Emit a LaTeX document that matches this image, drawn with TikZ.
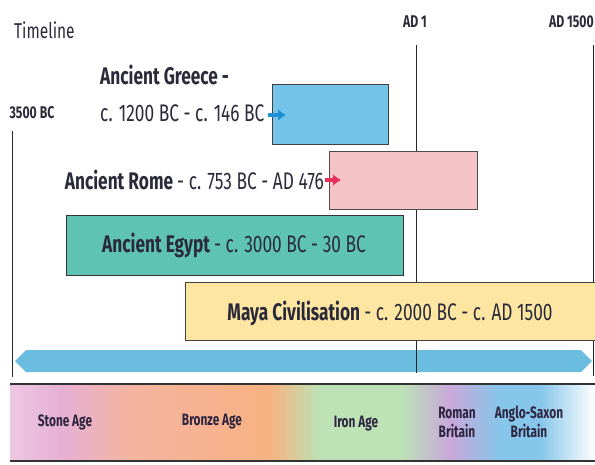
\documentclass[tikz,border=0pt]{standalone}
\usepackage{fontspec}
\setmainfont{Fira Sans}[FakeStretch=0.72]
\usetikzlibrary{arrows.meta}
\definecolor{txt}{HTML}{2B2A3A}
\definecolor{greecefill}{HTML}{74C3E8}
\definecolor{romefill}{HTML}{F7C4C6}
\definecolor{egyptfill}{HTML}{5EC3B3}
\definecolor{mayafill}{HTML}{FCE6A2}
\definecolor{barblue}{HTML}{6BBDE0}
\definecolor{garrow}{HTML}{1E8FD2}
\definecolor{rarrow}{HTML}{E8305A}
\definecolor{c1}{HTML}{E6B0D6}
\definecolor{c2}{HTML}{F4B4A0}
\definecolor{c3}{HTML}{F7B282}
\definecolor{c4}{HTML}{BCE2B6}
\definecolor{c5}{HTML}{C9A8DA}
\definecolor{c6}{HTML}{86C6EA}
\definecolor{ageTxt}{HTML}{2E2540}
\tikzset{
  civbox/.style={draw=#1, line width=1.4pt, inner sep=0pt, anchor=north west},
  lbl/.style={text=txt, inner sep=0pt, font=\fontsize{24}{27}\selectfont},
  datelbl/.style={text=txt, inner sep=0pt, font=\bfseries\fontsize{17}{19}\selectfont},
  agelbl/.style={text=ageTxt, inner sep=0pt, align=center, font=\bfseries\fontsize{16.5}{19}\selectfont},
  tick/.style={draw=black!85, line width=1pt},
}
\begin{document}
\begin{tikzpicture}[x=1pt,y=-1pt]
\useasboundingbox (0,0) rectangle (595,464);
% title and date labels
\node[lbl, font=\fontsize{21.5}{24}\selectfont, anchor=west] (title) at (14,30) {Timeline};
\node[datelbl] (d3500) at (32,113) {3500 BC};
\node[datelbl] (dad1) at (415,22) {AD 1};
\node[datelbl, anchor=east] (dad1500) at (594,22) {AD 1500};
% age band
\shade[left color=c1!70!white, right color=c1] (10,385) rectangle (60,460);
\shade[left color=c1, right color=c2] (60,385) rectangle (130,460);
\shade[left color=c2, right color=c3] (130,385) rectangle (270,460);
\shade[left color=c3, right color=c4] (270,385) rectangle (320,460);
\shade[left color=c4, right color=c4] (320,385) rectangle (400,460);
\shade[left color=c4, right color=c5] (400,385) rectangle (450,460);
\shade[left color=c5, right color=c6] (450,385) rectangle (500,460);
\shade[left color=c6, right color=c6] (500,385) rectangle (540,460);
\shade[left color=c6, right color=white] (540,385) rectangle (595,460);
\draw[line width=1.5pt, draw=black!80] (10,384) -- (595,384);
\draw[line width=1.5pt, draw=black!80] (10,461) -- (595,461);
\node[agelbl] (stone) at (65,422) {Stone Age};
\node[agelbl] (bronze) at (212,422) {Bronze Age};
\node[agelbl] (iron) at (356,424) {Iron Age};
\node[agelbl] (roman) at (457,422) {Roman\\Britain};
\node[agelbl] (anglo) at (529,422) {Anglo-Saxon\\Britain};
% arrow bar
\fill[barblue] (15,361) -- (26,350) -- (581,350) -- (592,361) -- (581,372) -- (26,372) -- cycle;
% ticks
\coordinate (t1a) at (12,131); \coordinate (t1b) at (12,377);
\coordinate (t2a) at (416,45); \coordinate (t2b) at (416,373);
\coordinate (t3a) at (593,45); \coordinate (t3b) at (593,376);
\draw[tick] (t1a) -- (t1b);
\draw[tick] (t2a) -- (t2b);
\draw[tick] (t3a) -- (t3b);
% boxes
\node[civbox=black!75, fill=greecefill, minimum width=116pt, minimum height=60pt] (greece) at (272,84) {};
\node[civbox=black!70, fill=romefill, minimum width=148pt, minimum height=58pt] (rome) at (329,151) {};
\node[civbox=black!80, fill=egyptfill, minimum width=337pt, minimum height=60pt] (egypt) at (66,215) {};
\node[civbox=black!75, fill=mayafill, minimum width=412pt, minimum height=58pt] (maya) at (185,282) {};
% labels
\node[lbl, anchor=west, align=left] (greeceA) at (100,75) {\bfseries Ancient Greece -};
\node[lbl, anchor=west] (greeceB) at (100,113) {c. 1200 BC - c. 146 BC};
\node[lbl, anchor=east] (romeL) at (324,180) {\bfseries Ancient Rome \mdseries- c. 753 BC - AD 476};
\node[lbl] (egyptL) at (234,245) {\bfseries Ancient Egypt \mdseries- c. 3000 BC - 30 BC};
\node[lbl] (mayaL) at (390,313) {\bfseries Maya Civilisation \mdseries- c. 2000 BC - c. AD 1500};
% small arrows
\coordinate (ga) at (268,115);
\coordinate (ra) at (325,180);
\draw[-{Latex[length=8pt,width=12pt]}, line width=4pt, draw=garrow] (ga) -- ([xshift=14pt]greece.west |- ga);
\draw[-{Latex[length=8pt,width=12pt]}, line width=4pt, draw=rarrow] (ra) -- ([xshift=12pt]rome.west |- ra);
\end{tikzpicture}
\end{document}
